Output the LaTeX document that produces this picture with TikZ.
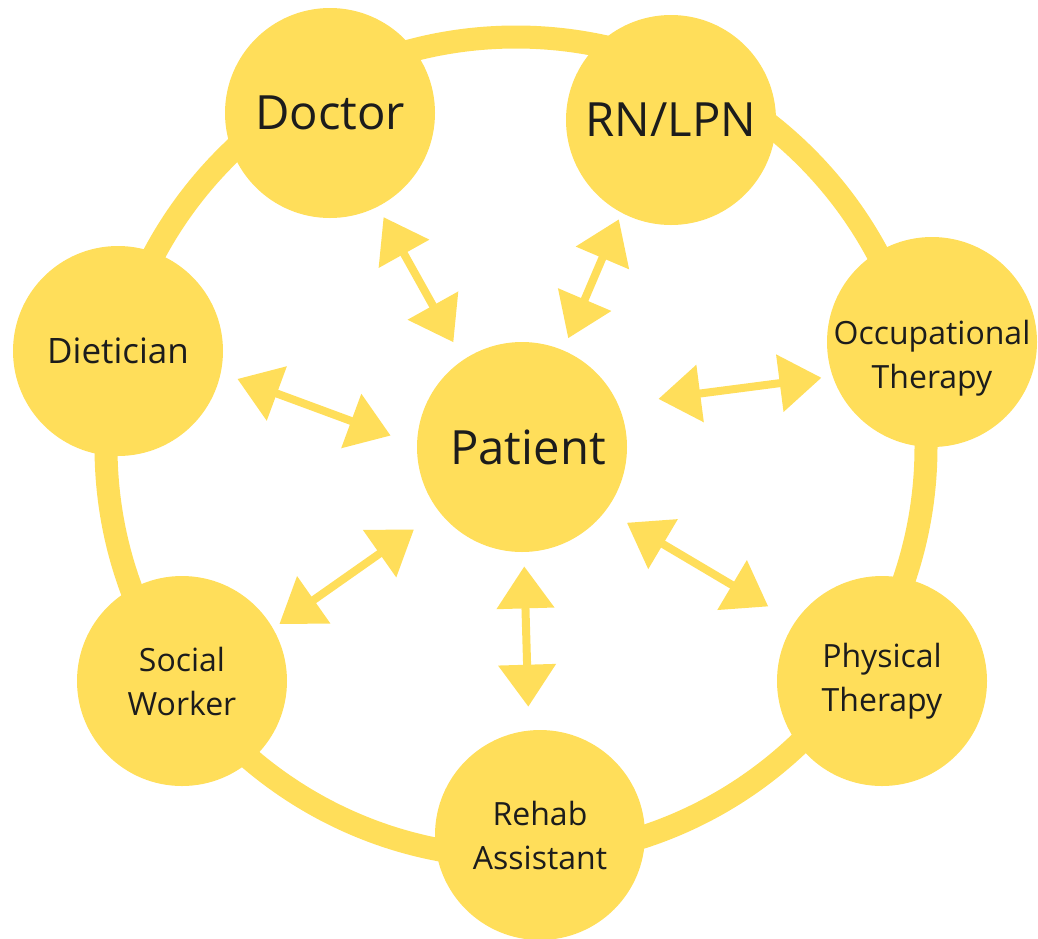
\documentclass[tikz,border=0pt]{standalone}
\usepackage{fontspec}
\setmainfont{Open Sans}
\usetikzlibrary{arrows.meta}
\definecolor{teamyellow}{RGB}{255,222,90}
\definecolor{labelink}{RGB}{28,28,28}

\begin{document}
\begin{tikzpicture}[x=0.5pt,y=-0.5pt,
    member/.style={circle,fill=teamyellow,minimum size=105pt,inner sep=0pt,
      text=labelink,align=center,font=\fontsize{16}{22}\selectfont},
    lead/.style={member,font=\fontsize{23.6}{28}\selectfont},
    tag/.style={text=labelink,align=center,font=\fontsize{16}{22}\selectfont},
    ring/.style={draw=teamyellow,line width=11.5pt},
    link/.style={draw=teamyellow,line width=4pt,
      {Triangle[length=21pt,width=28pt]}-{Triangle[length=21pt,width=28pt]}}]
  \useasboundingbox (0,0) rectangle (1038,938);
  % ring that ties the team together
  \coordinate (hub) at (516,447);
  \draw[ring] (hub) circle[radius=205pt];
  % care team
  \node[lead]   (patient)  at (522,447) {\hspace*{6pt}Patient};
  \node[lead]   (doctor)   at (330,113) {Doctor};
  \node[lead]   (nurse)    at (671,120) {RN/LPN};
  \node[member,label={[tag,yshift=-8pt]center:{Occupational\\Therapy}}]
                (occther)  at (932,342) {};
  \node[member] (physther) at (882,681) {Physical\\Therapy};
  \node[member] (rehab)    at (540,835) {Rehab\\Assistant};
  \node[member] (social)   at (182,681) {Social\\Worker};
  \node[member,font=\fontsize{17.5}{22}\selectfont] (diet) at (118,351) {Dietician};
  % two-way links to the patient
  \draw[link,shorten <=5.85pt,shorten >=9.95pt]  (doctor.297)   -- (patient.124);
  \draw[link,shorten <=3.4pt,shorten >=6.4pt]    (nurse.242)    -- (patient.67);
  \draw[link,shorten <=5.5pt,shorten >=20.25pt]  (occther.199)  -- (patient.24);
  \draw[link,shorten <=15.35pt,shorten >=12.05pt] (physther.146) -- (patient.323);
  \draw[link,shorten <=11.75pt,shorten >=7pt]    (rehab.96)     -- (patient.271);
  \draw[link,shorten <=3.75pt,shorten >=15.3pt]  (social.30)    -- (patient.218);
  \draw[link,shorten <=8.7pt,shorten >=13.85pt]  (diet.348)     -- (patient.179);
\end{tikzpicture}
\end{document}
